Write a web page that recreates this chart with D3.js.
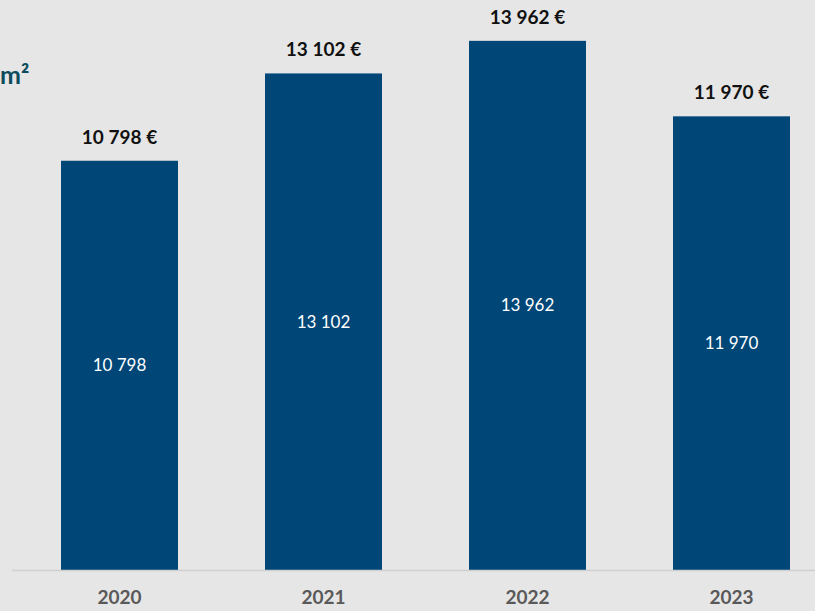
<!DOCTYPE html>
<html>
<head>
<meta charset="utf-8">
<script src="https://cdn.jsdelivr.net/npm/d3@7"></script>
<style>
  html, body { margin: 0; padding: 0; background: #e6e6e6; }
  svg { display: block; }
</style>
</head>
<body>
<svg id="chart" width="815" height="611"></svg>
<script>
// Average price per square metre by year
const years = ["2020", "2021", "2022", "2023"];
const prices = [10798, 13102, 13962, 11970];
const yMax = 15000;

const W = 815, H = 611;
const svg = d3.select("#chart");
const fmt = v => d3.format(",")(v).replace(/,/g, " ");
const font = "Lato, 'Open Sans', sans-serif";

svg.append("rect").attr("width", W).attr("height", H).attr("fill", "#e6e6e6");

const x = d3.scaleBand().domain(years).range([20.2, 830.8]).paddingInner(0.4265).paddingOuter(0.2);
const y = d3.scaleLinear().domain([0, yMax]).range([570, 1.5]);

// Title fragment at the left edge
svg.append("text")
  .attr("x", 0).attr("y", 84)
  .attr("font-family", font)
  .attr("font-weight", 700).attr("font-size", 25)
  .attr("fill", "#0d4c5c")
  .text("m²");

// Bars
svg.selectAll("rect.bar").data(years).join("rect")
  .attr("class", "bar")
  .attr("x", d => x(d))
  .attr("width", x.bandwidth())
  .attr("y", (d, i) => y(prices[i]))
  .attr("height", (d, i) => y(0) - y(prices[i]))
  .attr("fill", "#004677");

// Baseline axis
const axis = svg.append("g").attr("transform", `translate(0,${y(0)})`)
  .call(d3.axisBottom(x).tickSize(0).tickPadding(21));
axis.select(".domain").attr("d", "M12,0.5H815").attr("stroke", "#cfcfcf").attr("stroke-width", 1.5);
axis.selectAll("text")
  .attr("font-family", font)
  .attr("font-weight", 700).attr("font-size", 19)
  .attr("fill", "#595959");

// Value labels above bars
svg.selectAll("text.top").data(years).join("text")
  .attr("class", "top")
  .attr("x", d => x(d) + x.bandwidth() / 2)
  .attr("y", (d, i) => y(prices[i]) - 17)
  .attr("text-anchor", "middle")
  .attr("font-family", font)
  .attr("font-weight", 700).attr("font-size", 19)
  .attr("fill", "#111")
  .text((d, i) => fmt(prices[i]) + " €");

// Value labels inside bars
svg.selectAll("text.inner").data(years).join("text")
  .attr("class", "inner")
  .attr("x", d => x(d) + x.bandwidth() / 2)
  .attr("y", (d, i) => (y(prices[i]) + y(0)) / 2)
  .attr("dy", "0.35em")
  .attr("text-anchor", "middle")
  .attr("font-family", font)
  .attr("font-size", 17)
  .attr("fill", "#ffffff")
  .text((d, i) => fmt(prices[i]));
</script>
</body>
</html>
